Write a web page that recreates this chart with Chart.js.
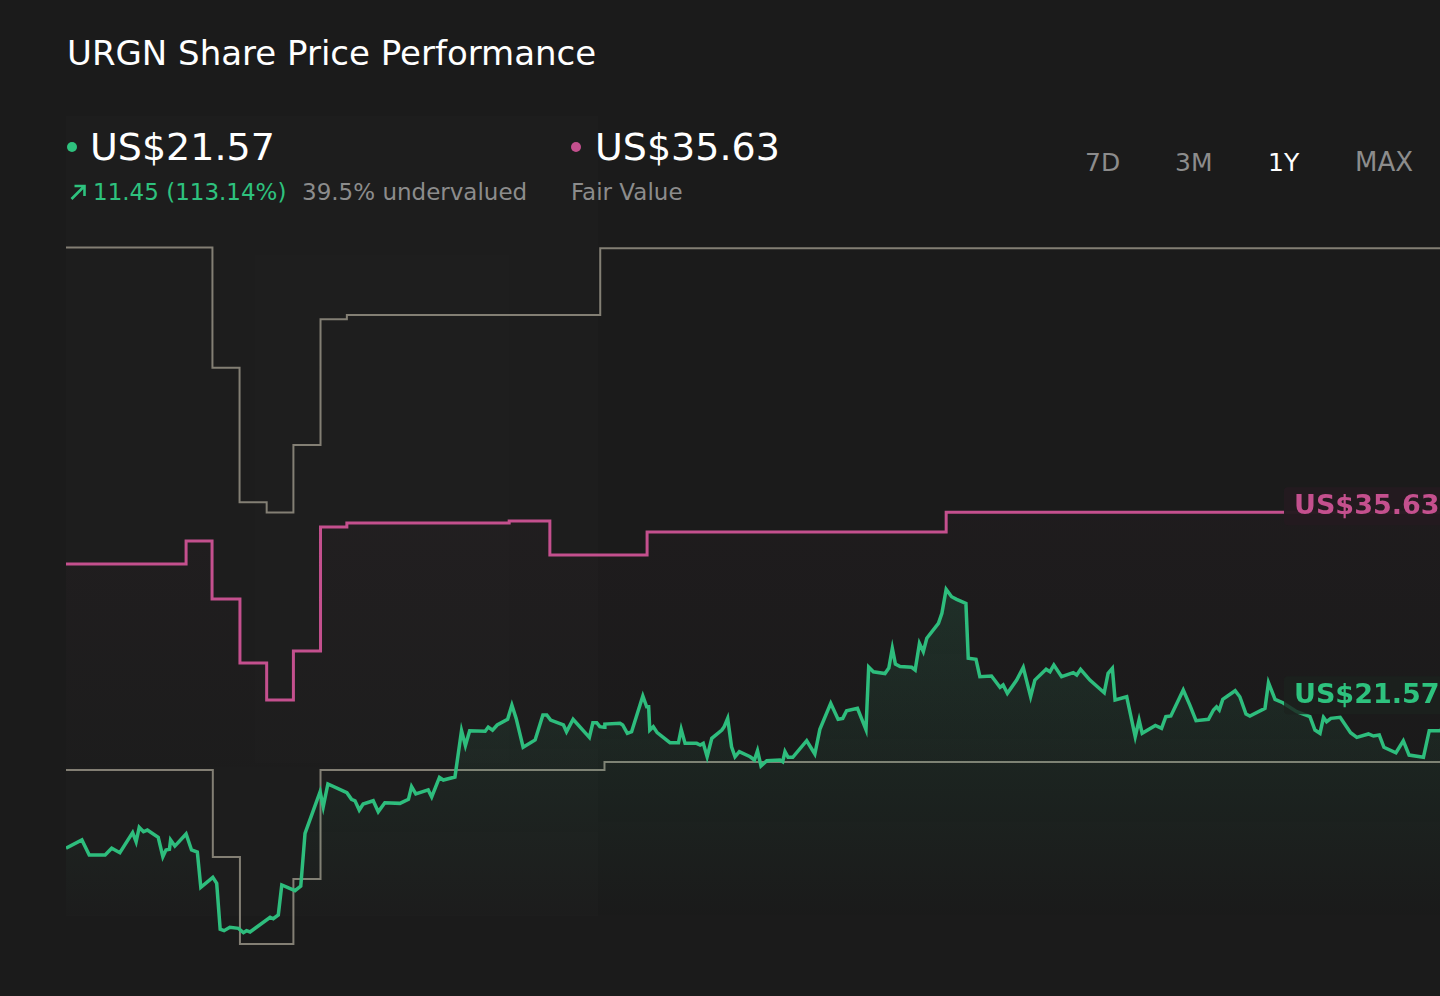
<!DOCTYPE html>
<html>
<head>
<meta charset="utf-8">
<script src="https://cdn.jsdelivr.net/npm/chart.js@4.4.1/dist/chart.umd.min.js"></script>
<style>
  html, body { margin: 0; padding: 0; width: 1440px; height: 996px; overflow: hidden; background: #1b1b1b; }
  body { position: relative; font-family: "DejaVu Sans", sans-serif; color: #fff; }
  .txt { position: absolute; white-space: nowrap; }
  .dot { position: absolute; width: 10px; height: 10px; border-radius: 50%; }
  #past { position: absolute; left: 66px; top: 116px; width: 532px; height: 800px; background: rgba(255,255,255,0.01); }
  #wrap { position: absolute; left: 66px; top: 230px; width: 1414px; height: 746px; }
  #arrow { position: absolute; left: 69px; top: 183px; }
</style>
</head>
<body>
<div id="past"></div>
<div class="txt" style="left:67px;top:36px;font-size:34px;line-height:34px;">URGN Share Price Performance</div>

<div class="dot" style="left:67px;top:142px;background:#2ec27e;"></div>
<div class="txt" style="left:90px;top:128px;font-size:38px;line-height:38px;">US$21.57</div>
<svg id="arrow" width="18" height="18" viewBox="0 0 18 18">
  <path d="M2.5 16 L15 3.5 M5.5 3 H15.5 V13" fill="none" stroke="#2ec27e" stroke-width="2.6"/>
</svg>
<div class="txt" style="left:93px;top:181px;font-size:23px;line-height:23px;color:#2ec27e;">11.45 (113.14%)</div>
<div class="txt" style="left:302px;top:181px;font-size:23px;line-height:23px;color:#8c8c8c;">39.5% undervalued</div>

<div class="dot" style="left:571px;top:142px;background:#c4508e;"></div>
<div class="txt" style="left:595px;top:128px;font-size:38px;line-height:38px;">US$35.63</div>
<div class="txt" style="left:571px;top:181px;font-size:23px;line-height:23px;color:#8c8c8c;">Fair Value</div>

<div class="txt" style="left:1085px;top:150px;font-size:25px;line-height:25px;color:#8c8c8c;">7D</div>
<div class="txt" style="left:1175px;top:150px;font-size:25px;line-height:25px;color:#8c8c8c;">3M</div>
<div class="txt" style="left:1268px;top:150px;font-size:25px;line-height:25px;color:#ffffff;">1Y</div>
<div class="txt" style="left:1355px;top:150px;font-size:26px;line-height:25px;color:#8c8c8c;">MAX</div>

<div id="wrap"><canvas id="chart" width="1414" height="746"></canvas></div>

<script>
// days since start of the 1Y window
var priceDays = [0,4.1,6.0,10.1,11.8,13.9,17.2,18.1,18.9,20.0,
  21.0,23.8,25.0,25.8,26.7,27.0,28.1,31.0,32.4,33.9,
  34.8,37.9,38.9,39.8,40.8,42.3,44.5,45.8,46.6,47.5,
  52.7,53.5,54.8,55.7,59.1,60.6,61.7,65.6,66.4,67.6,
  72.5,73.7,74.6,75.7,76.7,79.3,80.6,82.3,86.2,88.4,
  89.2,90.3,93.5,94.4,96.4,97.4,100.4,102.1,103.1,104.2,
  108.2,109.0,110.1,111.3,114.0,115.1,116.2,118.0,121.1,123.1,
  124.1,125.1,128.4,129.2,130.9,135.1,136.0,137.0,137.8,138.9,
  139.1,143.0,143.7,144.9,146.0,148.9,149.9,150.4,150.7,151.6,
  152.6,155.9,158.1,158.8,159.8,162.8,163.7,164.5,165.5,166.7,
  169.3,169.9,170.8,171.8,172.7,173.8,176.6,177.7,178.5,179.4,
  180.9,184.3,185.0,185.6,186.4,187.6,191.2,193.3,194.6,197.4,
  199.3,200.5,201.5,204.3,206.5,207.2,208.4,211.4,212.4,213.3,
  214.1,215.3,218.3,219.2,220.3,221.3,222.2,225.2,226.1,227.2,
  228.6,229.9,232.3,232.9,234.9,235.9,238.9,241.1,241.9,243.0,
  245.4,247.1,249.0,250.1,253.0,254.0,255.0,257.0,260.0,260.9,
  261.9,264.3,268.0,269.0,270.1,270.8,273.8,276.0,277.0,277.8,
  281.2,282.8,283.9,285.2,288.4,290.1,291.7,294.9,296.2,297.0,
  297.7,298.6,301.8,303.0,304.6,305.6,309.5,310.4,312.1,314.1,
  317.7,321.1,322.4,323.7,324.6,325.4,326.5,328.9,331.6,333.2,
  336.2,337.5,339.0,340.2,343.3,345.2,346.7,350.4,351.9,354.6,
  358.5,361.9,365];
var priceValues = [9.81,10.45,9.29,9.29,9.81,9.47,11.01,10.31,11.42,11.08,
  11.21,10.65,9.16,9.68,9.73,10.45,9.98,10.91,9.68,9.52,
  6.81,7.58,7.12,3.59,3.48,3.74,3.66,3.33,3.48,3.38,
  4.51,4.40,4.69,6.99,6.55,6.91,10.96,14.16,13.00,14.75,
  14.08,13.57,13.46,12.75,13.21,13.46,12.62,13.31,13.26,13.57,
  14.54,13.98,14.29,13.75,15.25,15.05,15.28,18.84,17.70,18.84,
  18.80,19.12,18.89,19.28,19.72,20.81,19.79,17.57,18.13,20.05,
  20.05,19.66,19.28,18.76,19.72,18.33,19.45,19.45,19.15,19.10,
  19.35,19.41,19.28,18.64,18.76,21.51,20.68,20.68,18.89,19.15,
  18.69,17.92,17.92,18.95,17.87,17.87,17.74,17.87,16.84,18.26,
  18.89,19.15,19.79,17.61,16.84,17.23,16.84,16.59,17.30,16.13,
  16.54,16.59,16.46,17.23,16.80,16.80,18.07,17.05,18.95,20.94,
  19.72,19.79,20.38,20.56,18.93,23.73,23.37,23.23,23.66,25.17,
  23.96,23.77,23.71,23.50,25.55,24.91,25.94,27.09,27.86,29.70,
  29.13,28.93,28.62,24.40,24.32,22.99,23.04,22.17,22.35,21.71,
  22.73,23.71,21.45,22.73,23.56,23.37,23.89,22.99,23.30,23.12,
  23.56,22.73,21.76,23.25,23.63,21.20,21.45,18.38,19.66,18.64,
  19.24,19.02,19.92,19.97,21.97,20.81,19.61,19.72,20.43,20.68,
  20.43,21.25,21.91,21.45,20.12,19.97,20.56,22.53,21.25,20.99,
  20.30,19.92,18.89,18.64,19.87,19.53,19.79,19.87,18.69,18.33,
  18.59,18.43,18.51,17.57,17.15,18.07,16.97,16.80,18.84,18.84,
  19.60,20.80,21.57];

// step series: value takes effect on the given day
var fairDays   = [0, 31.0, 37.7, 44.9, 51.8, 58.7, 65.7, 72.5, 114.4, 124.9, 150.0, 227.2, 365];
var fairValues = [31.64, 33.41, 28.96, 24.04, 21.20, 24.96, 34.49, 34.79, 34.95, 32.33, 34.10, 35.63, 35.63];

var highDays   = [0, 37.8, 44.8, 51.8, 58.7, 65.7, 72.5, 137.9, 365];
var highValues = [55.95, 46.72, 36.38, 35.61, 40.78, 50.44, 50.77, 55.89, 55.89];

var lowDays   = [0, 37.9, 44.9, 58.7, 65.7, 139.0, 365];
var lowValues = [15.82, 9.14, 2.46, 7.45, 15.82, 16.44, 16.44];

function pts(days, vals) {
  return days.map(function (d, i) { return { x: d, y: vals[i] }; });
}

var green = '#2ebd7d';
var pink = '#c4508e';
var grey = '#837f74';

var endLabels = {
  id: 'endLabels',
  afterDatasetsDraw: function (chart) {
    var ctx = chart.ctx;
    var items = [
      { ds: 1, color: pink, box: 'rgba(36,27,32,0.97)', shift: -6 },
      { ds: 0, color: '#2ec27e', box: 'rgba(28,34,30,0.8)', shift: 0 }
    ];
    items.forEach(function (it) {
      var data = chart.data.datasets[it.ds].data;
      var last = data[data.length - 1].y;
      var y = chart.scales.y.getPixelForValue(last) + it.shift;
      var x = 1218;
      ctx.save();
      ctx.fillStyle = it.box;
      ctx.beginPath();
      ctx.roundRect(x, y - 19, 240, 38, 4);
      ctx.fill();
      ctx.fillStyle = it.color;
      ctx.font = 'bold 27px "DejaVu Sans"';
      ctx.textBaseline = 'middle';
      ctx.fillText('US$' + last.toFixed(2), x + 10, y + 1);
      ctx.restore();
    });
  }
};

new Chart('chart', {
  type: 'line',
  data: {
    datasets: [{
      data: pts(priceDays, priceValues),
      borderColor: green,
      borderWidth: 3.5,
      fill: 'start',
      backgroundColor: function (c) {
        var area = c.chart.chartArea;
        if (!area) return 'transparent';
        var g = c.chart.ctx.createLinearGradient(0, area.top + 350, 0, area.top + 690);
        g.addColorStop(0, 'rgba(46,189,125,0.13)');
        g.addColorStop(1, 'rgba(46,189,125,0)');
        return g;
      }
    }, {
      data: pts(fairDays, fairValues),
      borderColor: pink,
      borderWidth: 3,
      stepped: true,
      fill: 'start',
      backgroundColor: function (c) {
        var area = c.chart.chartArea;
        if (!area) return 'transparent';
        var g = c.chart.ctx.createLinearGradient(0, area.top + 280, 0, area.top + 560);
        g.addColorStop(0, 'rgba(196,80,142,0.025)');
        g.addColorStop(1, 'rgba(196,80,142,0)');
        return g;
      }
    }, {
      data: pts(highDays, highValues),
      borderColor: grey,
      borderWidth: 2,
      stepped: true,
      fill: false
    }, {
      data: pts(lowDays, lowValues),
      borderColor: grey,
      borderWidth: 2,
      stepped: true,
      fill: false
    }]
  },
  options: {
    responsive: false,
    animation: false,
    layout: { padding: 0 },
    elements: { point: { radius: 0 }, line: { tension: 0, borderJoinStyle: 'miter' } },
    plugins: { legend: { display: false }, tooltip: { enabled: false } },
    scales: {
      x: { type: 'linear', min: 0, max: 365, display: false },
      y: { type: 'linear', min: 0, max: 57.3, display: false }
    }
  },
  plugins: [endLabels]
});
</script>
</body>
</html>
